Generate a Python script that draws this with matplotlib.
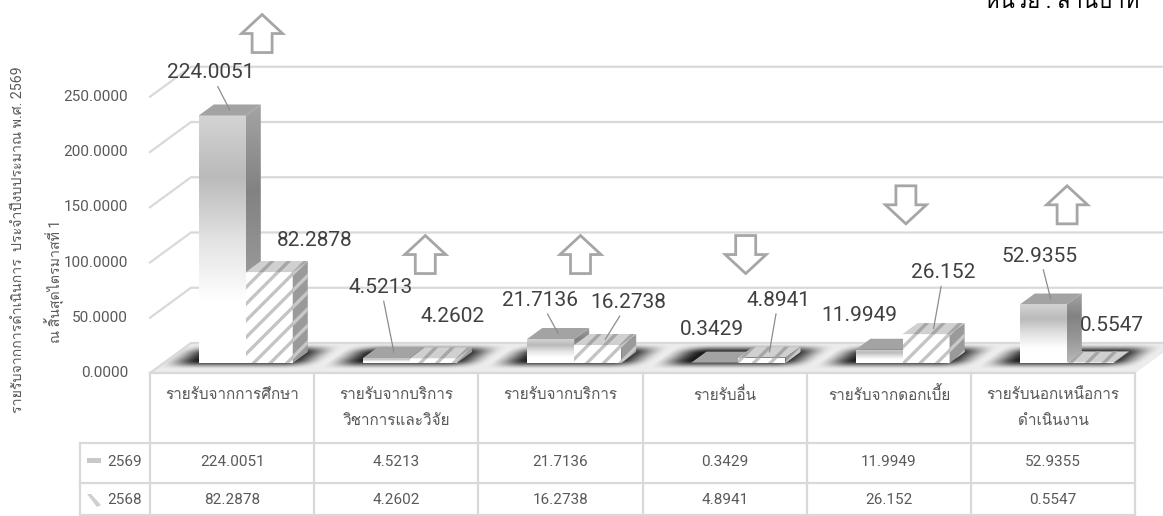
import numpy as np
import matplotlib
matplotlib.use('Agg')
import matplotlib.pyplot as plt
from matplotlib.patches import Polygon, Rectangle
from matplotlib.colors import LinearSegmentedColormap
from matplotlib.transforms import Affine2D
from matplotlib import font_manager
from matplotlib.ft2font import FT2Font

# data
categories = ['รายรับจากการศึกษา', 'รายรับจากบริการ\nวิชาการและวิจัย', 'รายรับจากบริการ',
              'รายรับอื่น', 'รายรับจากดอกเบี้ย', 'รายรับนอกเหนือการ\nดำเนินงาน']
years = ['2569', '2568']
v2569 = [224.0051, 4.5213, 21.7136, 0.3429, 11.9949, 52.9355]
v2568 = [82.2878, 4.2602, 16.2738, 4.8941, 26.152, 0.5547]
yticks = [0, 50, 100, 150, 200, 250]
ytitle1 = 'รายรับจากการดำเนินการ  ประจำปีงบประมาณ พ.ศ. 2569'
ytitle2 = 'ณ สิ้นสุดไตรมาสที่ 1'
unit_text = 'หน่วย : ล้านบาท'

# layout (pixel offsets of labels, arrow levels)
lab_off_69 = [(-19, 37), (-13, 65), (-18, 33), (-10, 28), (-27, 29), (-11, 43)]
lab_off_68 = [(38, 26), (12, 36), (23, 37), (9, 52), (10, 56), (14, 31)]
lead_69 = [True, True, True, False, False, True]
lead_68 = [False, False, True, True, True, False]
arrow_dx = [30, 29, 20, 21, 17, 14]
arrow_level = [290, 90, 90, 90, 135, 135]


def find_thai_font():
    for entry in font_manager.fontManager.ttflist:
        try:
            cmap = FT2Font(entry.fname).get_charmap()
        except Exception:
            continue
        if 0x0E23 in cmap and 0x0E34 in cmap:
            return entry.name
    return None

thai = find_thai_font()
fams = ['Roboto']
if thai:
    fams.append(thai)
fams.append('DejaVu Sans')
plt.rcParams['font.family'] = fams
plt.rcParams['hatch.linewidth'] = 2.4

W, H = 1163, 516
fig = plt.figure(figsize=(W / 100, H / 100), dpi=100)
fig.patch.set_facecolor('white')

# chart axes: x in category units, y in value units (front plane)
PXU = 1 / 164.2
PXV = 1 / 1.105
ax = fig.add_axes([0, 0, 1, 1])
ax.axis('off')
XL = (-0.5 - 150 * PXU, -0.5 + (W - 150) * PXU)
YL = (-(H - 373) * PXV, 373 * PXV)

DX = 41 * PXU
DY = 30 * PXV
D0, D1 = 0.333, 0.70
BW = 47 * PXU
GRID = '#d9d9d9'
n = len(categories)


def P(u, v, d):
    return (u + d * DX, v + d * DY)


def grad_poly(pts, colors, z, vertical=True):
    poly = Polygon(pts, closed=True, facecolor='none', edgecolor='none', zorder=z)
    ax.add_patch(poly)
    xs = [p[0] for p in pts]
    ys = [p[1] for p in pts]
    cmap = LinearSegmentedColormap.from_list('g', colors)
    g = np.linspace(0, 1, 256).reshape(-1, 1)
    if not vertical:
        g = g.T
    im = ax.imshow(g, cmap=cmap, extent=(min(xs), max(xs), min(ys), max(ys)),
                   origin='upper', aspect='auto', zorder=z, interpolation='bicubic')
    im.set_clip_path(poly)


def smooth(x):
    x = np.clip(x, 0, 1)
    return x * x * (3 - 2 * x)


# floor with soft shadows (image in (u, depth) space, sheared onto the floor)
ax.add_patch(Polygon([P(-0.5, 0, 0), P(n - 0.5, 0, 0), P(n - 0.5, 0, 1), P(-0.5, 0, 1)],
                     closed=True, facecolor='#ececec', edgecolor='none', zorder=1))
shear = Affine2D.from_values(1, 0, DX, DY, 0, 0) + ax.transData
uu = np.linspace(-0.5, n - 0.5, 1400)
dd = np.linspace(0, 1, 160)
U, Dg = np.meshgrid(uu, dd)
rel = (U + 0.5) % 1 - 0.5
fu = smooth((0.5 - np.abs(rel + 0.03)) / 0.24)
fd = smooth(np.minimum(Dg - 0.12, 0.98 - Dg) / 0.32)
shadow = np.zeros(U.shape + (4,))
shadow[..., 3] = 0.9 * fu * fd
ax.imshow(shadow, extent=(-0.5, n - 0.5, 0, 1), origin='lower', aspect='auto',
          transform=shear, zorder=1.1, interpolation='bilinear')

# gridlines and tick labels
for t in yticks:
    x0, y0 = P(-0.5, t, 0)
    x1, y1 = P(-0.5, t, 1)
    x2, y2 = P(n - 0.5, t, 1)
    ax.plot([x0, x1, x2 + 0.3], [y0, y1, y2], color=GRID, lw=1.6, zorder=1.5,
            solid_joinstyle='miter')
    ax.text(-0.5 - 22 * PXU, t, f'{t:.4f}', ha='right', va='center', fontsize=11,
            color='#595959', zorder=5)

# bars
front69 = ['#d4d4d4', '#bababa', '#e2e2e2', '#ffffff', '#ffffff']
side69 = ['#a4a4a4', '#828282', '#999999', '#b8b8b8']
z = 2.0
for i in range(n):
    # 2569
    u0, u1, v = i - BW, i, v2569[i]
    z += 0.01
    grad_poly([P(u0, 0, D0), P(u1, 0, D0), P(u1, v, D0), P(u0, v, D0)], front69, z)
    z += 0.01
    grad_poly([P(u1, 0, D0), P(u1, 0, D1), P(u1, v, D1), P(u1, v, D0)], side69, z)
    z += 0.01
    ax.add_patch(Polygon([P(u0, v, D0), P(u1, v, D0), P(u1, v, D1), P(u0, v, D1)],
                         closed=True, facecolor='#a3a3a3', edgecolor='none', zorder=z))
    # 2568
    u0, u1, v = i, i + BW, v2568[i]
    z += 0.01
    ax.add_patch(Polygon([P(u0, 0, D0), P(u1, 0, D0), P(u1, v, D0), P(u0, v, D0)],
                         closed=True, facecolor='white', edgecolor='#c4c4c4', lw=0,
                         hatch='//', zorder=z))
    z += 0.01
    ax.add_patch(Polygon([P(u1, 0, D0), P(u1, 0, D1), P(u1, v, D1), P(u1, v, D0)],
                         closed=True, facecolor='#9a9a9a', edgecolor='#c8c8c8', lw=0,
                         hatch='//', zorder=z))
    z += 0.01
    ax.add_patch(Polygon([P(u0, v, D0), P(u1, v, D0), P(u1, v, D1), P(u0, v, D1)],
                         closed=True, facecolor='#d0d0d0', edgecolor='#a6a6a6', lw=0,
                         hatch='//', zorder=z))

# data labels
for vals, offs, leads, sgn in [(v2569, lab_off_69, lead_69, -1), (v2568, lab_off_68, lead_68, 1)]:
    for i in range(n):
        uc = i + sgn * BW / 2
        anchor = P(uc, vals[i], (D0 + D1) / 2)
        ap = dict(arrowstyle='-', color='#8c8c8c', lw=0.9, shrinkA=1, shrinkB=0) if leads[i] else None
        ax.annotate(str(vals[i]), xy=anchor, xytext=offs[i], textcoords='offset pixels',
                    ha='center', va='center', fontsize=15, color='#404040',
                    arrowprops=ap, zorder=6)

# change arrows (up when 2569 is above 2568)
AW, AH, SW, HH = 41 * PXU, 38 * PXV, 20 * PXU, 19 * PXV
for i in range(n):
    up = v2569[i] >= v2568[i]
    uc = i + arrow_dx[i] * PXU
    b = arrow_level[i]
    if up:
        pts = [(uc - SW / 2, b), (uc + SW / 2, b), (uc + SW / 2, b + AH - HH), (uc + AW / 2, b + AH - HH),
               (uc, b + AH), (uc - AW / 2, b + AH - HH), (uc - SW / 2, b + AH - HH)]
    else:
        pts = [(uc - SW / 2, b + AH), (uc + SW / 2, b + AH), (uc + SW / 2, b + HH), (uc + AW / 2, b + HH),
               (uc, b), (uc - AW / 2, b + HH), (uc - SW / 2, b + HH)]
    ax.add_patch(Polygon(pts, closed=True, facecolor='white', edgecolor='#a6a6a6', lw=2,
                         joinstyle='miter', zorder=6))

ax.set_xlim(*XL)
ax.set_ylim(*YL)

# table and titles in pixel coordinates
tb = fig.add_axes([0, 0, 1, 1])
tb.axis('off')
tb.set_xlim(0, W)
tb.set_ylim(H, 0)
cw = 164.2
left, right = 150, 150 + cw * n
TC = '#d9d9d9'
tb.plot([left, right], [373, 373], color=TC, lw=1.6)
for yy in [443, 483, 515]:
    tb.plot([80, right], [yy, yy], color=TC, lw=1.6)
for k in range(n + 1):
    tb.plot([left + k * cw] * 2, [373, H], color=TC, lw=1.6)
tb.plot([80, 80], [443, H], color=TC, lw=1.6)

for k, cat in enumerate(categories):
    xc = left + (k + 0.5) * cw
    for j, line in enumerate(cat.split('\n')):
        tb.text(xc, 395 + j * 26, line, ha='center', va='center', fontsize=11, color='#595959')
    tb.text(xc, 462, str(v2569[k]), ha='center', va='center', fontsize=11, color='#595959')
    tb.text(xc, 500, str(v2568[k]), ha='center', va='center', fontsize=11, color='#595959')

for yy, yr in zip([462, 500], years):
    tb.text(107, yy, yr, ha='left', va='center', fontsize=11, color='#595959')
tb.add_patch(Rectangle((87, 458), 14, 5, facecolor='#c8c8c8', edgecolor='none'))
tb.add_patch(Polygon([(87, 494), (91, 494), (101, 505), (97, 507)], closed=True,
                     facecolor='#cfcfcf', edgecolor='none'))

tb.text(18, 240, ytitle1, rotation=90, rotation_mode='anchor', ha='center', va='center',
        fontsize=10.2, color='#595959')
tb.text(55, 281, ytitle2, rotation=90, rotation_mode='anchor', ha='center', va='center',
        fontsize=10.2, color='#595959')
tb.text(985, 8, unit_text, ha='left', va='baseline', fontsize=16, color='black')

fig.savefig('out.png', dpi=100)
